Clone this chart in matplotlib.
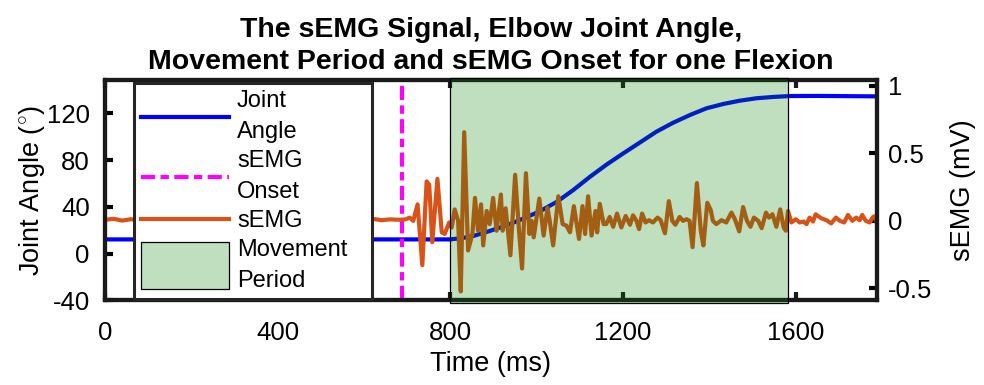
import matplotlib
matplotlib.use('Agg')
import matplotlib.pyplot as plt
from matplotlib.patches import Rectangle
from matplotlib.legend_handler import HandlerPatch

plt.rcParams['font.family'] = ['Liberation Sans', 'DejaVu Sans']
plt.rcParams['mathtext.fontset'] = 'custom'
plt.rcParams['mathtext.rm'] = 'Liberation Sans'

# joint angle (deg)
angle_t = [0, 400, 776, 799, 825, 853, 891, 930, 969, 1007, 1046, 1084, 1123,
           1162, 1200, 1239, 1277, 1316, 1355, 1393, 1432, 1470, 1509, 1547,
           1586, 1650, 1790]
angle = [12.2, 12.2, 12.2, 12.2, 13.2, 15.1, 19.4, 24.2, 30.0, 36.2, 44.2,
         54.2, 65.6, 76.2, 85.6, 95.0, 104.2, 111.9, 118.5, 124.2, 127.9,
         130.7, 132.8, 133.9, 134.7, 134.8, 134.4]

# sEMG (mV)
emg_t = [0, 20, 40, 60, 80, 100, 120, 140, 160, 180, 200, 220, 240, 260, 280,
         300, 320, 340, 360, 380, 400, 420, 440, 460, 480, 500, 520, 540, 560,
         580, 600, 620, 640, 660, 680, 695, 706,
         714, 724, 735, 745, 751, 758, 770, 780, 787, 797, 803, 810, 818, 824,
         832, 841, 851, 857, 864, 871, 876, 884, 891, 899, 907, 917, 921, 928,
         939, 950, 959, 966, 975, 983, 988, 993, 1006, 1016, 1025, 1030, 1038,
         1050, 1060, 1069, 1077, 1086, 1098, 1106, 1112, 1119, 1127, 1136,
         1140, 1146, 1155, 1161, 1169, 1177, 1186, 1196, 1206, 1216, 1223,
         1231, 1237, 1244, 1252, 1260, 1269, 1280, 1287, 1297, 1306, 1314,
         1321, 1331, 1339, 1347, 1354, 1361, 1371, 1380, 1386, 1395, 1403,
         1408, 1416, 1428, 1439, 1451, 1459, 1469, 1478, 1487, 1495, 1503,
         1513, 1521, 1531, 1538, 1546, 1555, 1564, 1572, 1577, 1582, 1590,
         1600, 1609, 1618, 1625, 1632, 1640, 1646, 1659, 1671, 1682, 1693,
         1702, 1712, 1721, 1731, 1740, 1748, 1754, 1762, 1771, 1779, 1785,
         1790]
emg = [0.008, 0.015, 0.002, 0.012, 0.005, 0.016, 0.0, 0.010, 0.004, 0.014,
       0.006, 0.011, -0.002, 0.013, 0.007, 0.003, 0.012, 0.006, 0.015, 0.001,
       0.009, 0.013, 0.004, 0.011, 0.002, 0.014, 0.007, 0.010, 0.003, 0.012,
       0.006, 0.015, 0.005, 0.011, 0.008, 0.010, 0.024,
       0.0, 0.122, -0.328, 0.292, 0.268, -0.158, 0.311, -0.085, -0.097,
       -0.012, -0.049, 0.085, 0.0, -0.523, 0.657, -0.219, -0.097, 0.170,
       -0.073, 0.122, -0.182, 0.073, -0.024, 0.170, -0.073, 0.195, -0.073,
       0.093, -0.255, 0.341, -0.073, -0.353, 0.353, -0.097, 0.0, -0.122,
       0.165, -0.109, 0.097, 0.0, -0.182, 0.182, -0.024, -0.036, -0.085,
       0.109, -0.134, 0.109, -0.097, 0.182, -0.109, 0.073, -0.085, 0.126,
       -0.024, -0.024, 0.029, -0.044, 0.054, -0.049, 0.036, -0.029, 0.041,
       0.0, -0.061, 0.054, -0.012, 0.005, -0.012, 0.024, 0.005, -0.092,
       0.146, 0.0, -0.029, 0.029, 0.0, 0.012, 0.0, -0.195, 0.280, -0.073,
       -0.182, 0.134, 0.080, 0.0, -0.024, 0.005, -0.012, 0.061, 0.012,
       -0.078, 0.102, 0.0, -0.044, 0.024, 0.0, -0.054, 0.061, 0.024, 0.049,
       -0.044, 0.085, -0.049, -0.073, 0.073, -0.012, 0.012, -0.012, -0.005,
       -0.024, 0.024, -0.005, 0.049, 0.019, 0.005, -0.019, 0.024, 0.0,
       -0.012, 0.044, 0.0, 0.024, 0.005, 0.044, 0.0, -0.012, 0.029, 0.036,
       -0.061]

onset_ms = 688
move_start, move_end = 800, 1581

x_ticks = [0, 400, 800, 1200, 1600]
angle_ticks = [-40, 0, 40, 80, 120]
emg_ticks = [-0.5, 0, 0.5, 1]

fig = plt.figure(figsize=(9.84, 3.85), dpi=100)
ax1 = fig.add_axes([0.1067, 0.2195, 0.7845, 0.5715])
ax2 = ax1.twinx()

l_angle, = ax1.plot(angle_t, angle, color='#0000ff', lw=3, label='Joint\nAngle')
l_onset = ax2.axvline(onset_ms, color='#ff00ff', lw=3,
                      linestyle=(0, (3.4, 1.3, 2.0, 1.3)), label='sEMG\nOnset')
l_emg, = ax2.plot(emg_t, emg, color='#d95319', lw=3, label='sEMG')
span = ax2.axvspan(move_start, move_end, ymin=-0.01, ymax=1.01, clip_on=False,
                   facecolor=(0, 0.5, 0, 0.25), edgecolor='black', lw=0.9,
                   zorder=3, label='Movement\nPeriod')

ax1.set_xlim(0, 1788)
ax1.set_ylim(-40, 148)
ax2.set_ylim(-0.59, 1.04)
ax1.set_xticks(x_ticks)
ax1.set_yticks(angle_ticks)
ax2.set_yticks(emg_ticks)
ax2.set_yticklabels(['-0.5', '0', '0.5', '1'])
ax1.set_yticklabels([str(v) for v in angle_ticks])

for ax in (ax1, ax2):
    for s in ax.spines.values():
        s.set_linewidth(3)
        s.set_color('#1a1a1a')
ax1.tick_params(axis='x', direction='in', length=6, width=3, labelsize=18.5,
                pad=15, top=True, color='#1a1a1a')
ax1.tick_params(axis='y', direction='in', length=6, width=3, labelsize=18.5,
                pad=11, right=False)
ax2.tick_params(axis='y', direction='in', length=6, width=3, labelsize=18.5,
                pad=8)

ax1.set_xlabel('Time (ms)', fontsize=19.5, labelpad=4)
ax1.set_ylabel('Joint Angle ($^{\\circ}$)', fontsize=19.5, labelpad=0)
ax2.set_ylabel('sEMG (mV)', fontsize=19.5, labelpad=13)
ax1.set_title('The sEMG Signal, Elbow Joint Angle,\n'
              'Movement Period and sEMG Onset for one Flexion',
              fontsize=20.5, fontweight='bold', pad=8, linespacing=1.34)


def tall_rect(legend, orig_handle, xdescent, ydescent, width, height, fontsize):
    extra = 11.0
    return Rectangle((-xdescent, -ydescent - extra), width, height + 2 * extra)


leg = ax2.legend(handles=[l_angle, l_onset, l_emg, span],
                 loc='upper left', bbox_to_anchor=(0.0375, 0.0, 0.309, 0.99),
                 mode='expand', borderaxespad=0, fontsize=17,
                 handlelength=3.73, handletextpad=0.34, labelspacing=0.28,
                 borderpad=0.3, fancybox=False, framealpha=1,
                 edgecolor='#262626',
                 handler_map={span: HandlerPatch(patch_func=tall_rect)})
leg.get_frame().set_linewidth(2.2)
leg.set_zorder(10)
for t in leg.get_texts():
    t.set_linespacing(1.56)

fig.savefig('out.png', dpi=100)
